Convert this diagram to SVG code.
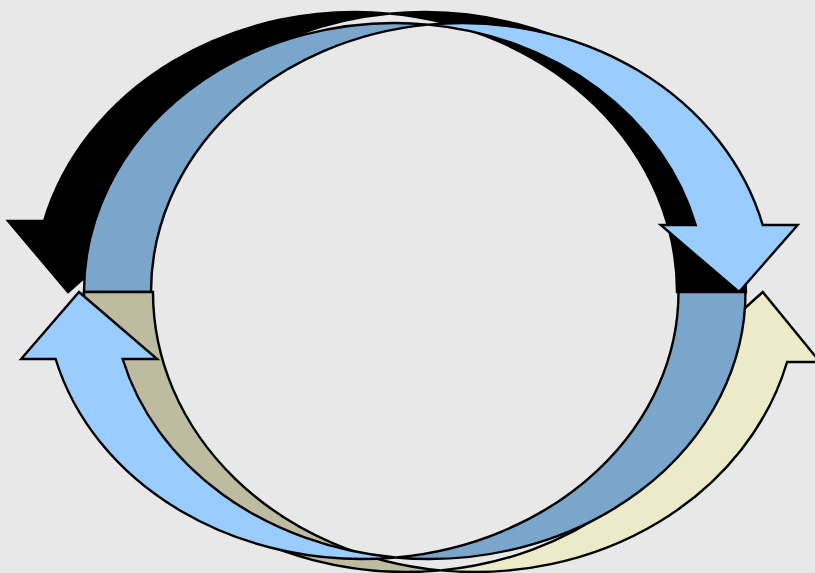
<svg xmlns="http://www.w3.org/2000/svg" width="815" height="573" viewBox="0 0 815 573">
  <style>
    .o { stroke: #000000; stroke-width: 2.4; stroke-linejoin: miter; stroke-miterlimit: 4; }
    .blk { fill: #000000; }
    .lb { fill: #99CCFF; }
    .sb { fill: #7AA6CC; }
    .cr { fill: #ECEAC8; }
    .tn { fill: #BDBBA0; }
  </style>
  <rect x="0" y="0" width="815" height="573" fill="#E8E8E8"/>
  <g id="arrow-black-top-left">
    <path class="o blk" d="M 68 292 L 149.01 221 L 113.01 221 A 321.75 280 0 0 1 389.75 13.61 A 321.75 280 0 0 0 44.01 221 L 8.01 221 Z"/>
    <path class="o blk" d="M 389.75 13.61 A 321.75 280 0 0 1 677 292 L 746 292 A 321.75 280 0 0 0 389.75 13.61 Z"/>
  </g>
  <g id="arrow-blue-top-right">
    <path class="o lb" d="M 739 292 L 660.71 225 L 695.71 225 A 310.75 269 0 0 0 428.25 24.57 A 310.75 269 0 0 1 762.71 225 L 797.71 225 Z"/>
    <path class="o sb" d="M 428.25 24.57 A 310.75 269 0 0 0 151 292 L 84 292 A 310.75 269 0 0 1 428.25 24.57 Z"/>
  </g>
  <g id="arrow-cream-bottom-right">
    <path class="o cr" d="M 762.8 292 L 685 362 L 718.07 362 A 322.15 280 0 0 1 440.65 570.4 A 322.15 280 0 0 0 787.07 362 L 820 362 Z"/>
    <path class="o tn" d="M 440.65 570.4 A 322.15 280 0 0 1 153 292 L 84 292 A 322.15 280 0 0 0 440.65 570.4 Z"/>
  </g>
  <g id="arrow-blue-bottom-left">
    <path class="o lb" d="M 79 292 L 157.13 359 L 122.63 359 A 316.5 267 0 0 0 395.5 557.5 A 316.5 267 0 0 1 55.63 359 L 21.13 359 Z"/>
    <path class="o sb" d="M 395.5 557.5 A 316.5 267 0 0 0 678.5 292 L 745.5 292 A 316.5 267 0 0 1 395.5 557.5 Z"/>
  </g>
  <g id="connectors"/>
</svg>
